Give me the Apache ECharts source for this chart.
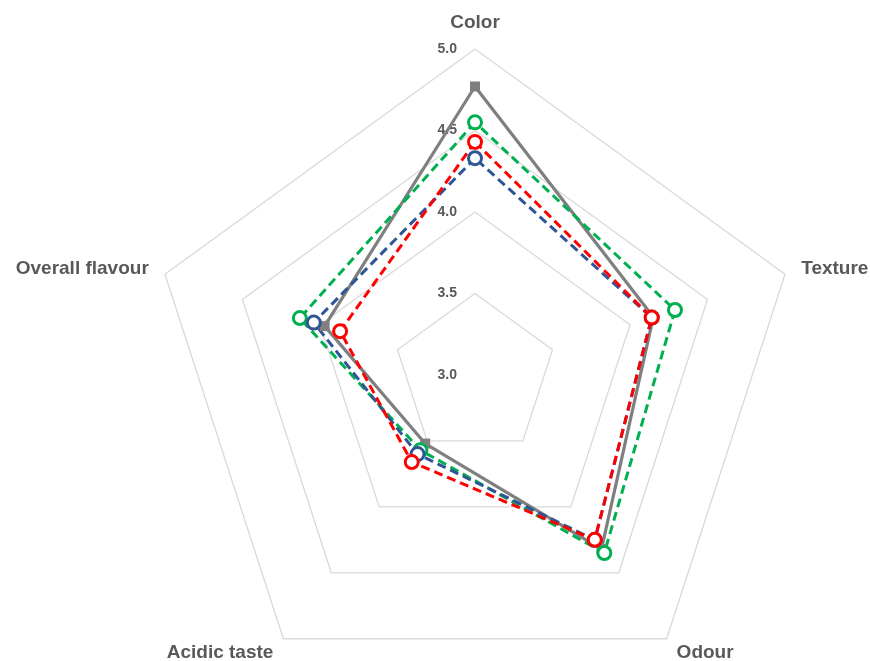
<!DOCTYPE html>
<html><head><meta charset="utf-8">
<script src="https://cdn.jsdelivr.net/npm/echarts@6/dist/echarts.min.js"></script>
<style>html,body{margin:0;padding:0;background:#fff}#c{width:870px;height:661px}</style>
</head><body><div id="c"></div>
<script>
// Axes listed clockwise from the top
const indicators = ['Color', 'Texture', 'Odour', 'Acidic taste', 'Overall flavour'];
const axisMin = 3.0, axisMax = 5.0;
const seriesGray  = [4.77, 4.15, 4.32, 3.52, 3.97];
const seriesGreen = [4.55, 4.29, 4.35, 3.57, 4.13];
const seriesBlue  = [4.33, 4.14, 4.25, 3.60, 4.04];
const seriesRed   = [4.43, 4.14, 4.25, 3.66, 3.87];

// ECharts radar runs counter-clockwise; reorder so the layout is clockwise
const order = [0, 4, 3, 2, 1];
const ccw = arr => order.map(i => arr[i]);

const chart = echarts.init(document.getElementById('c'));
const txt = '#595959';
const font = '"Liberation Sans", Arial, sans-serif';
function dashed(name, color, data) {
  return {
    type: 'radar', name, symbol: 'circle', symbolSize: 13,
    lineStyle: { color, width: 3, type: [9, 5] },
    itemStyle: { color: '#fff', borderColor: color, borderWidth: 3 },
    data: [{ value: ccw(data) }]
  };
}
chart.setOption({
  animation: false,
  radar: {
    center: [475, 375], radius: 326, startAngle: 90, shape: 'polygon',
    splitNumber: 4,
    indicator: ccw(indicators).map((n, i) => {
      const o = { name: n, min: axisMin, max: axisMax };
      if (i === 0) o.axisLabel = { show: true };
      return o;
    }),
    nameGap: 17,
    axisName: { color: txt, fontSize: 19, fontWeight: 'bold', fontFamily: font },
    axisLine: { show: false },
    axisTick: { show: false },
    splitArea: { show: false },
    splitLine: { lineStyle: { color: '#d9d9d9', width: 1.3 } },
    axisLabel: { show: false, color: txt, fontSize: 14, fontWeight: 'bold', fontFamily: font,
                 margin: 18, formatter: v => Number(v).toFixed(1) }
  },
  series: [
    {
      type: 'radar', name: 'gray', symbol: 'rect', symbolSize: 10,
      lineStyle: { color: '#7f7f7f', width: 3.2 },
      itemStyle: { color: '#7f7f7f' },
      data: [{ value: ccw(seriesGray) }]
    },
    dashed('green', '#00b050', seriesGreen),
    dashed('blue', '#2f5597', seriesBlue),
    dashed('red', '#ff0000', seriesRed)
  ]
});
</script></body></html>
